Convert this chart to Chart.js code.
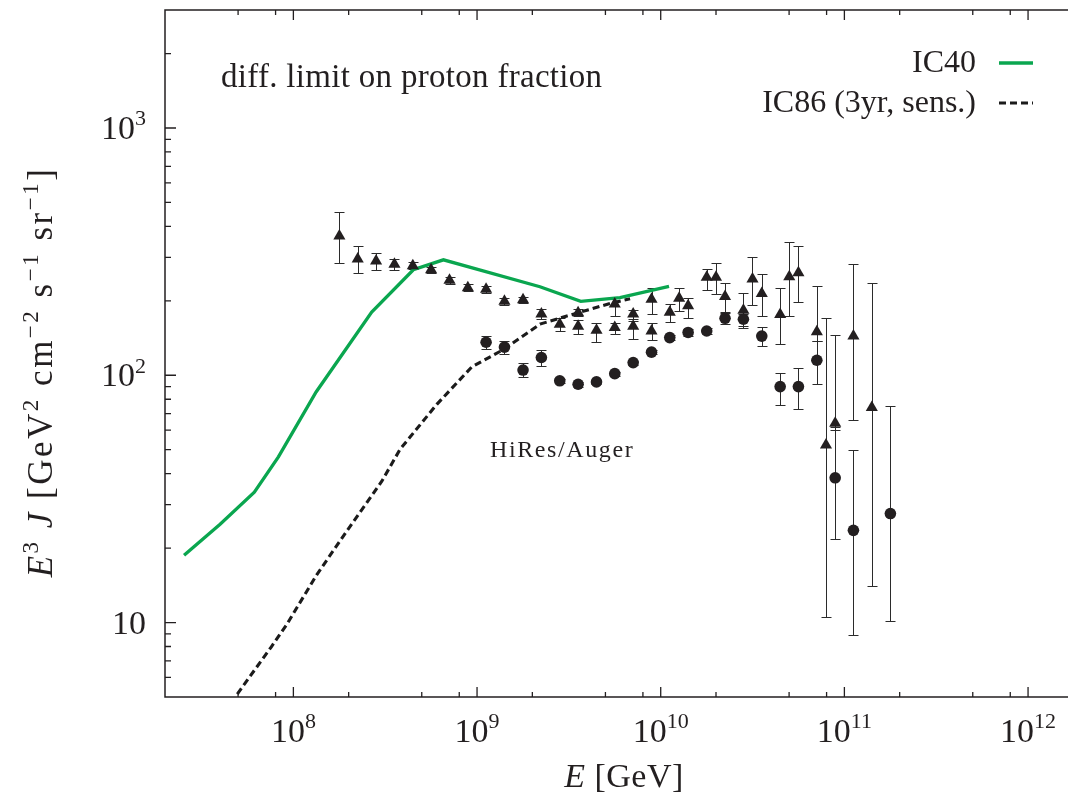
<!DOCTYPE html>
<html>
<head>
<meta charset="utf-8">
<title>Proton fraction limit</title>
<script src="https://cdn.jsdelivr.net/npm/chart.js@4.4.1/dist/chart.umd.min.js"></script>
<style>
  html, body { margin: 0; padding: 0; background: #ffffff; }
  #wrap { position: relative; width: 1068px; height: 797px; }
</style>
</head>
<body>
<div id="wrap"><canvas id="chart" width="1068" height="797"></canvas></div>
<script>
// Energies in GeV, fluxes as E^3 J in GeV^2 cm^-2 s^-1 sr^-1

// IC40 differential limit
const ic40Energy = [2.54e7, 3.99e7, 6.13e7, 8.29e7, 1.33e8, 2.67e8, 4.50e8, 6.56e8, 2.20e9, 3.67e9, 6.00e9, 1.11e10];
const ic40Flux   = [18.7, 25.0, 33.7, 46.8, 85.6, 180, 267, 293, 228, 199, 206, 229];

// IC86 three-year sensitivity
const ic86Energy = [4.95e7, 7.57e7, 9.20e7, 1.34e8, 1.95e8, 3.03e8, 3.81e8, 6.04e8, 9.35e8, 1.39e9, 2.20e9, 3.64e9, 5.30e9, 6.81e9];
const ic86Flux   = [5.14, 7.96, 9.82, 15.6, 23.4, 37.3, 50.2, 76.3, 108, 127, 161, 180, 195, 204];

// HiRes spectrum (first set)
const hiresAEnergy = [1.78e8, 2.24e8, 2.82e8, 3.55e8, 4.47e8, 5.62e8, 7.08e8, 8.91e8, 1.12e9, 1.41e9,
                      1.78e9, 2.24e9, 2.82e9, 3.55e9, 4.47e9, 5.62e9, 7.08e9, 8.91e9, 1.12e10, 1.41e10,
                      1.78e10, 2.24e10, 2.82e10, 3.55e10, 4.47e10, 5.62e10, 7.08e10, 8.91e10, 1.12e11, 1.41e11];
const hiresAFlux   = [366, 295, 290, 281, 277, 267, 242, 226, 223, 199,
                      202, 177, 161, 158, 152, 156, 158, 151, 180, 191,
                      249, 208, 183, 214, 176, 260, 150, 64, 144, 74];
const hiresALow    = [285, 259, 267, 266, 269, 259, 235, 219, 216, 193,
                      196, 169, 151, 147, 136, 147, 140, 139, 164, 171,
                      222, 181, 156, 174, 134, 197, 138, 60, 66, 14.1];
const hiresAHigh   = [458, 334, 311, 295, 286, 274, 250, 233, 230, 206,
                      208, 185, 170, 167, 162, 162, 166, 162, 194, 206,
                      270, 236, 216, 256, 225, 332, 229, 145, 282, 237];

// HiRes spectrum (second set)
const hiresBEnergy = [3.55e9, 5.62e9, 7.08e9, 8.91e9, 1.26e10, 2.00e10, 3.16e10, 5.01e10, 7.94e10];
const hiresBFlux   = [179, 194, 177, 203, 205, 249, 245, 250, 52.2];
const hiresBLow    = [174, 174, 169, 177, 182, 213, 192, 173, 10.5];
const hiresBHigh   = [185, 206, 183, 225, 226, 284, 302, 347, 170];

// Auger spectrum
const augerEnergy = [1.12e9, 1.41e9, 1.78e9, 2.24e9, 2.82e9, 3.55e9, 4.47e9, 5.62e9, 7.08e9, 8.91e9, 1.12e10,
                     1.41e10, 1.78e10, 2.24e10, 2.82e10, 3.55e10, 4.47e10, 5.62e10, 7.08e10, 8.91e10, 1.12e11, 1.78e11];
const augerFlux   = [136, 130, 105, 118, 95, 92, 94, 101.5, 112.5, 124, 142,
                     149, 151, 170, 168.5, 144, 90, 90, 115, 38.5, 23.6, 27.6];
const augerLow    = [128, 122, 98, 109, 93, 90, 92, 99.5, 110.5, 122, 139,
                     143.5, 147, 161, 158.5, 131, 76, 73, 92, 21.7, 8.9, 10.1];
const augerHigh   = [144, 138, 112, 126, 97, 94, 96, 103.5, 114.5, 126.5, 145,
                     154, 155, 179, 176.5, 157, 102, 107, 138, 62, 50, 75];

// Axes
const xRange = [2.0e7, 1.65e12];
const yRange = [5, 3000];
const xMajorTicks = [1e8, 1e9, 1e10, 1e11, 1e12];
const xTickLabels = ['10^8', '10^9', '10^10', '10^11', '10^12'];
const yMajorTicks = [10, 100, 1000];
const yTickLabels = ['10', '10^2', '10^3'];
const xMinorSteps = [2, 5, 8];
const yMinorSteps = [2, 3, 4, 5, 6, 7, 8, 9];

const SERIF = '"Liberation Serif", "Times New Roman", serif';
const INK = '#231f20';
const GREEN = '#0aa64f';

function pairs(xs, ys) { return xs.map((v, i) => ({ x: v, y: ys[i] })); }

function fontOf(size, italic) { return (italic ? 'italic ' : '') + size + 'px ' + SERIF; }

// "10^8" -> base run + superscript run
function tickRuns(label) {
  const parts = label.split('^');
  const runs = [{ t: parts[0] }];
  if (parts[1]) runs.push({ t: parts[1], sup: true });
  return runs;
}

// draws a sequence of text runs (italic / superscript) on one baseline
function drawRuns(ctx, runs, x, y, size, align, spacing) {
  const supSize = Math.round(size * 0.66);
  const raise = size * 0.40;
  ctx.letterSpacing = (spacing || 0) + 'px';
  const widths = runs.map(r => {
    ctx.font = fontOf(r.sup ? supSize : size, r.it);
    return ctx.measureText(r.t).width;
  });
  const total = widths.reduce((a, b) => a + b, 0);
  let cx = align === 'right' ? x - total : align === 'center' ? x - total / 2 : x;
  ctx.textAlign = 'left';
  ctx.textBaseline = 'alphabetic';
  runs.forEach((r, i) => {
    ctx.font = fontOf(r.sup ? supSize : size, r.it);
    ctx.fillText(r.t, cx, y - (r.sup ? raise : 0));
    cx += widths[i];
  });
  ctx.letterSpacing = '0px';
  return total;
}

const CAP = 5;

const decor = {
  id: 'decor',
  beforeDatasetsDraw(chart) {
    const { ctx, chartArea: a, scales: { x, y } } = chart;
    ctx.save();
    ctx.beginPath();
    ctx.rect(a.left, a.top, a.right - a.left, a.bottom - a.top);
    ctx.clip();
    ctx.strokeStyle = '#2b2b2b';
    ctx.lineWidth = 1;
    chart.data.datasets.forEach(ds => {
      if (!ds.errLow) return;
      ds.data.forEach((p, i) => {
        const px = Math.round(x.getPixelForValue(p.x)) + 0.5;
        const top = Math.round(y.getPixelForValue(ds.errHigh[i])) + 0.5;
        const bot = Math.round(y.getPixelForValue(ds.errLow[i])) + 0.5;
        ctx.beginPath();
        ctx.moveTo(px, top); ctx.lineTo(px, bot);
        ctx.moveTo(px - CAP, top); ctx.lineTo(px + CAP, top);
        ctx.moveTo(px - CAP, bot); ctx.lineTo(px + CAP, bot);
        ctx.stroke();
      });
    });
    ctx.restore();
  },
  afterDraw(chart) {
    const { ctx, chartArea: a, scales: { x, y } } = chart;
    ctx.save();

    // frame (top, bottom, left)
    ctx.strokeStyle = INK;
    ctx.lineWidth = 1.5;
    ctx.beginPath();
    ctx.moveTo(a.right, a.top); ctx.lineTo(a.left, a.top);
    ctx.lineTo(a.left, a.bottom); ctx.lineTo(a.right, a.bottom);
    ctx.stroke();

    // inward tick marks
    ctx.lineWidth = 1.3;
    ctx.beginPath();
    x.ticks.forEach(t => {
      const px = x.getPixelForValue(t.value);
      ctx.moveTo(px, a.bottom); ctx.lineTo(px, a.bottom - 10);
      ctx.moveTo(px, a.top); ctx.lineTo(px, a.top + 10);
    });
    for (let d = 1e7; d <= 1e12; d *= 10) {
      xMinorSteps.forEach(m => {
        const v = d * m;
        if (v <= xRange[0] || v >= xRange[1]) return;
        const px = x.getPixelForValue(v);
        ctx.moveTo(px, a.bottom); ctx.lineTo(px, a.bottom - 5);
        ctx.moveTo(px, a.top); ctx.lineTo(px, a.top + 5);
      });
    }
    y.ticks.forEach(t => {
      const py = y.getPixelForValue(t.value);
      ctx.moveTo(a.left, py); ctx.lineTo(a.left + 11, py);
    });
    for (let d = 1; d <= 1000; d *= 10) {
      yMinorSteps.forEach(m => {
        const v = d * m;
        if (v <= yRange[0] || v >= yRange[1]) return;
        const py = y.getPixelForValue(v);
        ctx.moveTo(a.left, py); ctx.lineTo(a.left + 6, py);
      });
    }
    ctx.stroke();

    ctx.fillStyle = INK;

    // tick labels
    x.ticks.forEach((t, i) => {
      drawRuns(ctx, tickRuns(xTickLabels[i]), x.getPixelForValue(t.value), 742, 34, 'center');
    });
    y.ticks.forEach((t, i) => {
      drawRuns(ctx, tickRuns(yTickLabels[i]), 146, y.getPixelForValue(t.value) + 11, 34, 'right');
    });

    // axis titles
    drawRuns(ctx, [{ t: 'E', it: true }, { t: ' [GeV]' }], 624, 787, 34, 'center', 0.5);
    ctx.save();
    ctx.translate(52, 372);
    ctx.rotate(-Math.PI / 2);
    drawRuns(ctx, [
      { t: 'E', it: true }, { t: '3', sup: true }, { t: ' ' }, { t: 'J', it: true },
      { t: ' [GeV' }, { t: '2', sup: true }, { t: ' cm' }, { t: '\u22122', sup: true },
      { t: ' s' }, { t: '\u22121', sup: true }, { t: ' sr' }, { t: '\u22121', sup: true }, { t: ']' }
    ], 0, 0, 35, 'center', 2.5);
    ctx.restore();

    // annotations
    drawRuns(ctx, [{ t: 'diff. limit on proton fraction' }], 221, 87, 33, 'left', 0.3);
    drawRuns(ctx, [{ t: 'HiRes/Auger' }], 490, 457, 24, 'left', 1.6);

    // legend for the two curves
    const rows = [72, 112];
    chart.data.datasets.filter(ds => ds.inLegend).forEach((ds, i) => {
      const base = rows[i];
      drawRuns(ctx, [{ t: ds.label }], 976, base, 32, 'right');
      ctx.save();
      ctx.strokeStyle = ds.borderColor;
      ctx.lineWidth = ds.borderWidth;
      ctx.setLineDash(ds.borderDash || []);
      ctx.beginPath();
      ctx.moveTo(999, base - 9); ctx.lineTo(1033, base - 9);
      ctx.stroke();
      ctx.restore();
    });

    ctx.restore();
  }
};

new Chart(document.getElementById('chart'), {
  type: 'scatter',
  data: {
    datasets: [
      { label: 'HiRes', data: pairs(hiresAEnergy, hiresAFlux), errLow: hiresALow, errHigh: hiresAHigh,
        pointStyle: 'triangle', pointRadius: 7, pointHoverRadius: 7, backgroundColor: INK, borderColor: INK, borderWidth: 0, order: 0 },
      { label: 'HiRes (2)', data: pairs(hiresBEnergy, hiresBFlux), errLow: hiresBLow, errHigh: hiresBHigh,
        pointStyle: 'triangle', pointRadius: 7, pointHoverRadius: 7, backgroundColor: INK, borderColor: INK, borderWidth: 0, order: 0 },
      { label: 'Auger', data: pairs(augerEnergy, augerFlux), errLow: augerLow, errHigh: augerHigh,
        pointStyle: 'circle', pointRadius: 5.8, pointHoverRadius: 5.8, backgroundColor: INK, borderColor: INK, borderWidth: 0, order: 0 },
      { label: 'IC40', inLegend: true, data: pairs(ic40Energy, ic40Flux), showLine: true,
        borderColor: GREEN, borderWidth: 3.3, pointRadius: 0, fill: false, order: 1 },
      { label: 'IC86 (3yr, sens.)', inLegend: true, data: pairs(ic86Energy, ic86Flux), showLine: true,
        borderColor: '#1b1b1b', borderWidth: 3.1, borderDash: [7, 4], pointRadius: 0, fill: false, order: 1 }
    ]
  },
  options: {
    responsive: false,
    devicePixelRatio: 1,
    animation: false,
    layout: { autoPadding: false, padding: { top: 10, right: 0, bottom: 0, left: 0 } },
    plugins: { legend: { display: false }, tooltip: { enabled: false } },
    scales: {
      x: {
        type: 'logarithmic', min: xRange[0], max: xRange[1],
        grid: { display: false, drawTicks: false }, border: { display: false },
        ticks: { display: false },
        afterBuildTicks: ax => { ax.ticks = xMajorTicks.map(v => ({ value: v })); },
        afterFit: ax => { ax.height = 100; }
      },
      y: {
        type: 'logarithmic', min: yRange[0], max: yRange[1],
        grid: { display: false, drawTicks: false }, border: { display: false },
        ticks: { display: false },
        afterBuildTicks: ax => { ax.ticks = yMajorTicks.map(v => ({ value: v })); },
        afterFit: ax => { ax.width = 165; }
      }
    }
  },
  plugins: [decor]
});
</script>
</body>
</html>
